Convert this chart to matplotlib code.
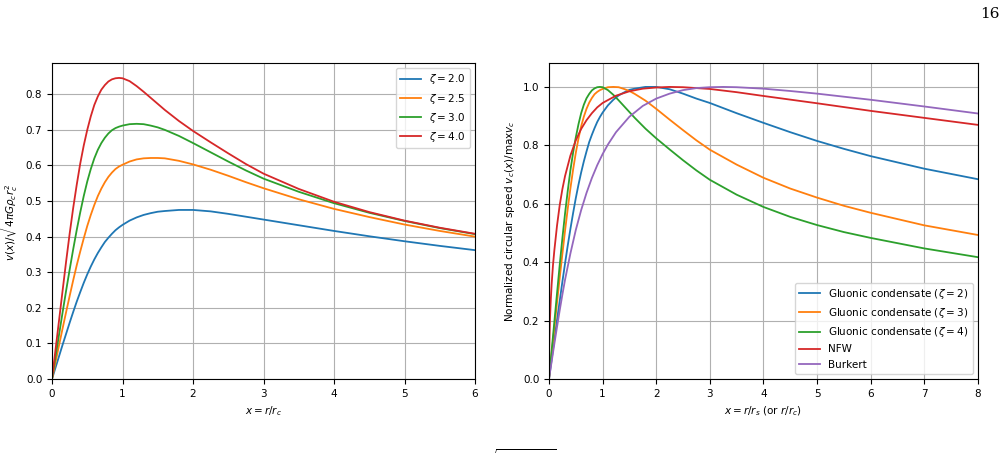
import numpy as np
import matplotlib.pyplot as plt

# left panel: v(x) for the gluonic condensate
x_left = [0, 0.05, 0.1, 0.15, 0.2, 0.25, 0.3, 0.35, 0.4, 0.45, 0.5, 0.55, 0.6, 0.65,
          0.7, 0.75, 0.8, 0.85, 0.9, 0.95, 1.0, 1.1, 1.2, 1.3, 1.4, 1.5, 1.6, 1.8, 2.0,
          2.25, 2.5, 2.75, 3.0, 3.5, 4.0, 4.5, 5.0, 5.5, 6.0]
v_z20 = [0, 0.032, 0.064, 0.096, 0.127, 0.158, 0.188, 0.217, 0.244, 0.27, 0.294, 0.316,
         0.336, 0.354, 0.37, 0.385, 0.397, 0.408, 0.418, 0.426, 0.433, 0.445, 0.454,
         0.461, 0.466, 0.47, 0.472, 0.475, 0.475, 0.471, 0.464, 0.456, 0.448, 0.432,
         0.416, 0.401, 0.387, 0.374, 0.362]
v_z25 = [0, 0.047, 0.095, 0.142, 0.188, 0.233, 0.277, 0.319, 0.358, 0.395, 0.43, 0.461,
         0.489, 0.514, 0.535, 0.553, 0.568, 0.58, 0.59, 0.597, 0.602, 0.611, 0.617, 0.62,
         0.621, 0.621, 0.62, 0.613, 0.603, 0.588, 0.571, 0.553, 0.536, 0.505, 0.478,
         0.455, 0.434, 0.416, 0.400]
v_z30 = [0, 0.0625, 0.125, 0.187, 0.248, 0.307, 0.364, 0.418, 0.468, 0.514, 0.555, 0.59,
         0.62, 0.644, 0.663, 0.678, 0.69, 0.699, 0.705, 0.709, 0.712, 0.716, 0.717,
         0.716, 0.712, 0.707, 0.70, 0.683, 0.663, 0.637, 0.611, 0.586, 0.563, 0.526,
         0.494, 0.467, 0.444, 0.424, 0.407]
v_z40 = [0, 0.083, 0.165, 0.248, 0.33, 0.408, 0.48, 0.545, 0.605, 0.656, 0.70, 0.738,
         0.77, 0.794, 0.813, 0.826, 0.836, 0.842, 0.845, 0.846, 0.845, 0.837, 0.823,
         0.807, 0.79, 0.773, 0.756, 0.725, 0.697, 0.665, 0.634, 0.604, 0.577, 0.534,
         0.498, 0.469, 0.445, 0.425, 0.408]
zetas = ['2.0', '2.5', '3.0', '4.0']

# right panel: normalized curves
x_gc = [0, 0.05, 0.1, 0.15, 0.2, 0.25, 0.3, 0.35, 0.4, 0.45, 0.5, 0.55, 0.6, 0.65, 0.7,
        0.75, 0.8, 0.85, 0.9, 0.95, 1.0, 1.1, 1.2, 1.3, 1.4, 1.5, 1.6, 1.8, 2.0, 2.25,
        2.5, 2.75, 3.0, 3.5, 4.0, 4.5, 5.0, 5.5, 6.0, 7.0, 8.0]
n_z2 = [0, 0.067, 0.135, 0.202, 0.267, 0.333, 0.396, 0.457, 0.514, 0.568, 0.619, 0.665,
        0.707, 0.745, 0.779, 0.811, 0.836, 0.859, 0.88, 0.897, 0.912, 0.937, 0.956,
        0.971, 0.981, 0.99, 0.994, 1.0, 1.0, 0.992, 0.977, 0.96, 0.945, 0.91, 0.877,
        0.845, 0.815, 0.788, 0.763, 0.72, 0.684]
n_z3 = [0, 0.087, 0.174, 0.261, 0.346, 0.428, 0.508, 0.583, 0.653, 0.717, 0.774, 0.823,
        0.865, 0.898, 0.925, 0.946, 0.962, 0.975, 0.983, 0.989, 0.993, 0.999, 1.0, 0.999,
        0.993, 0.986, 0.976, 0.953, 0.925, 0.888, 0.852, 0.817, 0.785, 0.734, 0.689,
        0.652, 0.621, 0.593, 0.569, 0.526, 0.493]
n_z4 = [0, 0.098, 0.195, 0.293, 0.39, 0.482, 0.567, 0.644, 0.715, 0.775, 0.827, 0.872,
        0.91, 0.939, 0.961, 0.976, 0.988, 0.995, 0.999, 1.0, 0.999, 0.989, 0.973, 0.954,
        0.934, 0.914, 0.894, 0.857, 0.824, 0.786, 0.749, 0.714, 0.682, 0.631, 0.589,
        0.555, 0.527, 0.503, 0.483, 0.447, 0.417]
x_nfw = [0, 0.002, 0.005, 0.01, 0.02, 0.035, 0.05, 0.075, 0.1, 0.15, 0.2, 0.25, 0.3,
         0.4, 0.5, 0.6, 0.7, 0.8, 0.9, 1.0, 1.25, 1.5, 1.75, 2.0, 2.25, 2.5, 3.0, 3.5,
         4.0, 5.0, 6.0, 7.0, 8.0]
n_nfw = [0, 0.065, 0.105, 0.148, 0.21, 0.275, 0.325, 0.39, 0.44, 0.525, 0.595, 0.65,
         0.695, 0.765, 0.817, 0.856, 0.886, 0.91, 0.93, 0.945, 0.97, 0.985, 0.994, 0.998,
         1.0, 0.999, 0.993, 0.982, 0.969, 0.944, 0.918, 0.894, 0.87]
x_bur = [0, 0.05, 0.1, 0.15, 0.2, 0.25, 0.3, 0.4, 0.5, 0.6, 0.7, 0.8, 0.9, 1.0, 1.1,
         1.25, 1.5, 1.75, 2.0, 2.25, 2.5, 2.75, 3.0, 3.25, 3.5, 4.0, 4.5, 5.0, 6.0, 7.0, 8.0]
n_bur = [0, 0.06, 0.12, 0.178, 0.235, 0.289, 0.34, 0.43, 0.51, 0.578, 0.637, 0.688,
         0.732, 0.77, 0.803, 0.845, 0.898, 0.935, 0.96, 0.977, 0.989, 0.996, 0.999, 1.0,
         0.999, 0.994, 0.986, 0.977, 0.956, 0.933, 0.909]

plt.rcParams['font.size'] = 7.5

fig = plt.figure(figsize=(10.06, 4.53), dpi=100)
ax1 = fig.add_axes([0.0517, 0.1634, 0.4205, 0.6976])
ax2 = fig.add_axes([0.5457, 0.1634, 0.4264, 0.6976])

for v, z in zip([v_z20, v_z25, v_z30, v_z40], zetas):
    ax1.plot(x_left, v, lw=1.3, label=r'$\zeta = %s$' % z)
ax1.set_xlim(0, 6)
ax1.set_ylim(0, 0.888)
ax1.set_xlabel(r'$x = r/r_c$')
ax1.set_ylabel(r'$v(x)/\sqrt{4\pi G\rho_c r_c^2}$')
ax1.grid(True)
ax1.legend(loc='upper right')

ax2.plot(x_gc, n_z2, lw=1.3, label=r'Gluonic condensate ($\zeta = 2$)')
ax2.plot(x_gc, n_z3, lw=1.3, label=r'Gluonic condensate ($\zeta = 3$)')
ax2.plot(x_gc, n_z4, lw=1.3, label=r'Gluonic condensate ($\zeta = 4$)')
ax2.plot(x_nfw, n_nfw, lw=1.3, label='NFW')
ax2.plot(x_bur, n_bur, lw=1.3, label='Burkert')
ax2.set_xlim(0, 8)
ax2.set_ylim(0, 1.082)
ax2.set_xlabel(r'$x = r/r_s$ (or $r/r_c$)')
ax2.set_ylabel(r'Normalized circular speed $v_c(x)/\max v_c$')
ax2.grid(True)
ax2.legend(loc='lower right')

# page number and the top of the cut-off caption
fig.text(0.994, 1 - 14 / 453, '16', ha='right', va='center', fontsize=11, family='DejaVu Serif')
fig.text(0.481, 1 - 448 / 453, r'$\sqrt{4\pi G\rho_c r_c^2}$', ha='left', va='top', fontsize=10)

fig.savefig('out.png', dpi=100)
